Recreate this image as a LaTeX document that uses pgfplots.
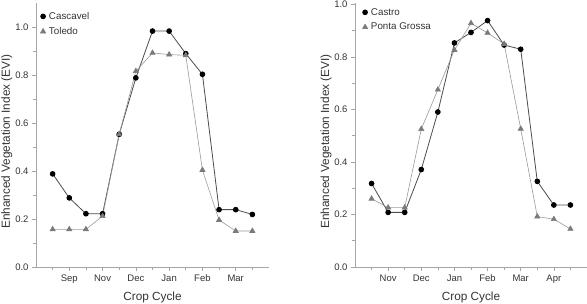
\documentclass[border=0pt]{standalone}
\usepackage{pgfplots}
\pgfplotsset{compat=1.18}
\usepackage{fontspec}
\setmainfont{Liberation Sans}
\definecolor{axgray}{gray}{0.65}
\definecolor{txtgray}{gray}{0.2}
\definecolor{lineA}{gray}{0.3}
\definecolor{lineB}{gray}{0.6}
\definecolor{markB}{gray}{0.48}
\pgfplotsset{
  evi/.style={
    scale only axis,
    axis x line*=bottom, axis y line*=left,
    axis line style={axgray, line width=0.7pt},
    tick style={axgray, line width=0.6pt},
    tick align=outside,
    major tick length=4pt, minor tick length=3pt,
    xmin=0, xmax=14,
    xtick={2,4,...,12}, minor xtick={1,3,...,13},
    ytick={0,0.2,0.4,0.6,0.8,1.0}, minor ytick={0.1,0.3,0.5,0.7,0.9},
    /pgf/number format/assume math mode=true,
    yticklabel style={/pgf/number format/fixed, /pgf/number format/fixed zerofill, /pgf/number format/precision=1},
    tick label style={font=\fontsize{9.5}{11}\selectfont, text=txtgray},
    label style={font=\fontsize{11.8}{13}\selectfont, text=txtgray},
    xlabel={Crop Cycle},
    ylabel={Enhanced Vegetation Index (EVI)},
    xlabel style={at={(axis description cs:0.5,0)}, anchor=center, yshift=-30pt},
    ylabel style={at={(axis description cs:-0.125,0.475)}, anchor=center},
    legend style={draw=none, fill=none, font=\fontsize{9.8}{11}\selectfont, text=txtgray,
      nodes={inner sep=1pt}, row sep=4.5pt, inner sep=0pt},
    legend cell align=left,
    legend image code/.code={\path (-3pt,0pt) (4.5pt,0pt); \draw[#1] plot coordinates {(0pt,0pt)};},
  },
  serA/.style={color=lineA, line width=0.8pt, mark=*, mark size=2.4pt, mark options={fill=black, draw=black}},
  serB/.style={color=lineB, line width=0.6pt, mark=triangle*, mark size=3pt, mark options={fill=markB, draw=markB}},
}
\begin{document}
\begin{tikzpicture}[x=1pt,y=1pt]
\useasboundingbox (0,0) rectangle (587,303);
\begin{axis}[evi, at={(36pt,36pt)}, anchor=south west, width=233pt, height=264pt,
  ymin=0, ymax=1.1,
  xticklabels={Sep,Nov,Dec,Jan,Feb,Mar},
  legend style={at={(axis description cs:0.015,0.97)}, anchor=north west}]
\addplot[serA] coordinates {(1,0.388) (2,0.288) (3,0.222) (4,0.222) (5,0.553) (6,0.788) (7,0.983) (8,0.983) (9,0.889) (10,0.803) (11,0.239) (12,0.239) (13,0.219)};
\addlegendentry{Cascavel}
\addplot[serB] coordinates {(1,0.157) (2,0.157) (3,0.157) (4,0.212) (5,0.553) (6,0.816) (7,0.892) (8,0.885) (9,0.882) (10,0.404) (11,0.196) (12,0.150) (13,0.150)};
\addlegendentry{Toledo}
\end{axis}
\begin{axis}[evi, at={(355pt,36pt)}, anchor=south west, width=232pt, height=264pt,
  ymin=0, ymax=1.005,
  xticklabels={Nov,Dec,Jan,Feb,Mar,Apr},
  legend style={at={(axis description cs:0.028,0.985)}, anchor=north west}]
\addplot[serA] coordinates {(1,0.318) (2,0.208) (3,0.208) (4,0.371) (5,0.590) (6,0.853) (7,0.893) (8,0.938) (9,0.845) (10,0.829) (11,0.326) (12,0.236) (13,0.236)};
\addlegendentry{Castro}
\addplot[serB] coordinates {(1,0.260) (2,0.226) (3,0.226) (4,0.525) (5,0.675) (6,0.826) (7,0.928) (8,0.891) (9,0.849) (10,0.526) (11,0.192) (12,0.182) (13,0.145)};
\addlegendentry{Ponta Grossa}
\end{axis}
\end{tikzpicture}
\end{document}
